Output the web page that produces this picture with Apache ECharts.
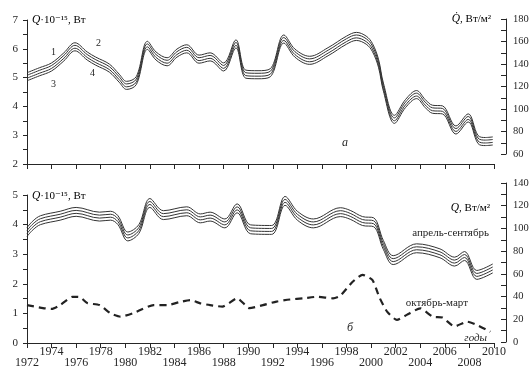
<!DOCTYPE html>
<html>
<head>
<meta charset="utf-8">
<script src="https://cdn.jsdelivr.net/npm/echarts/dist/echarts.min.js"></script>
<style>
  html, body { margin: 0; padding: 0; background: #fff; }
  #chart { width: 532px; height: 371px; }
</style>
</head>
<body>
<div id="chart"></div>
<script>
// Panel а: total heat flux Q·10^-15, W — four curves (1–4)
const yearsA = [1972.0, 1973.0, 1974.0, 1975.0, 1975.9, 1976.9, 1977.6, 1978.7, 1979.5, 1980.1,
  1980.9, 1981.8, 1982.5, 1983.4, 1984.2, 1985.0, 1986.0, 1986.9, 1988.0, 1989.0,
  1989.8, 1990.8, 1991.8, 1992.9, 1993.8, 1995.0, 1996.5, 1998.0, 1998.8, 1999.6,
  2000.1, 2000.6, 2001.0, 2001.9, 2002.8, 2003.7, 2004.4, 2005.0, 2005.8, 2006.9,
  2007.9, 2008.7, 2009.3, 2009.9];
const a1 = [5.17, 5.34, 5.51, 5.86, 6.21, 5.89, 5.71, 5.47, 5.12, 4.87,
  5.04, 6.26, 5.89, 5.69, 5.99, 6.14, 5.78, 5.86, 5.51, 6.31,
  5.26, 5.24, 5.31, 6.48, 5.99, 5.74, 6.04, 6.44, 6.57, 6.44,
  6.19, 5.64, 4.81, 3.69, 4.24, 4.55, 4.24, 4.04, 4.02, 3.32,
  3.74, 2.99, 2.92, 2.94];
const a2 = [5.08, 5.25, 5.42, 5.77, 6.12, 5.80, 5.62, 5.38, 5.03, 4.78,
  4.95, 6.17, 5.80, 5.60, 5.90, 6.05, 5.69, 5.77, 5.42, 6.22,
  5.17, 5.15, 5.22, 6.39, 5.90, 5.65, 5.95, 6.35, 6.48, 6.35,
  6.10, 5.55, 4.72, 3.60, 4.15, 4.46, 4.15, 3.95, 3.93, 3.23,
  3.65, 2.90, 2.83, 2.85];
const a4 = [4.98, 5.15, 5.32, 5.67, 6.02, 5.70, 5.52, 5.28, 4.93, 4.68,
  4.85, 6.07, 5.70, 5.50, 5.80, 5.95, 5.59, 5.67, 5.32, 6.12,
  5.07, 5.05, 5.12, 6.29, 5.80, 5.55, 5.85, 6.25, 6.38, 6.25,
  6.00, 5.45, 4.62, 3.50, 4.05, 4.36, 4.05, 3.85, 3.83, 3.13,
  3.55, 2.80, 2.73, 2.75];
const a3 = [4.89, 5.06, 5.23, 5.58, 5.93, 5.61, 5.43, 5.19, 4.84, 4.59,
  4.76, 5.98, 5.61, 5.41, 5.71, 5.86, 5.50, 5.58, 5.23, 6.03,
  4.98, 4.96, 5.03, 6.20, 5.71, 5.46, 5.76, 6.16, 6.29, 6.16,
  5.91, 5.36, 4.53, 3.41, 3.96, 4.27, 3.96, 3.76, 3.74, 3.04,
  3.46, 2.71, 2.64, 2.66];

// Panel б: April–September heat flux, four curves
const yearsB = [1972.0, 1972.5, 1973.1, 1974.7, 1976.0, 1977.9, 1978.8, 1979.4, 1980.2, 1981.1,
  1982.0, 1983.1, 1985.0, 1986.1, 1986.9, 1988.1, 1989.1, 1990.2, 1991.9, 1993.0,
  1994.0, 1995.3, 1997.5, 1998.3, 1999.3, 2000.2, 2001.0, 2001.8, 2003.7, 2005.6,
  2006.8, 2007.6, 2008.6, 2009.9];
const b1 = [3.90, 4.13, 4.30, 4.45, 4.58, 4.42, 4.45, 4.30, 3.75, 4.00,
  4.88, 4.47, 4.60, 4.36, 4.42, 4.19, 4.70, 3.99, 3.97, 4.95,
  4.45, 4.19, 4.57, 4.48, 4.27, 4.23, 3.46, 2.95, 3.35, 3.18,
  2.90, 3.09, 2.45, 2.67];
const b2 = [3.80, 4.03, 4.20, 4.35, 4.48, 4.32, 4.35, 4.20, 3.65, 3.90,
  4.78, 4.37, 4.50, 4.26, 4.32, 4.09, 4.60, 3.89, 3.87, 4.85,
  4.35, 4.09, 4.47, 4.38, 4.17, 4.13, 3.36, 2.85, 3.25, 3.08,
  2.80, 2.99, 2.35, 2.57];
const b4 = [3.70, 3.93, 4.10, 4.25, 4.38, 4.22, 4.25, 4.10, 3.55, 3.80,
  4.68, 4.27, 4.40, 4.16, 4.22, 3.99, 4.50, 3.79, 3.77, 4.75,
  4.25, 3.99, 4.37, 4.28, 4.07, 4.03, 3.26, 2.75, 3.15, 2.98,
  2.70, 2.89, 2.25, 2.47];
const b3 = [3.60, 3.83, 4.00, 4.15, 4.28, 4.12, 4.15, 4.00, 3.45, 3.70,
  4.58, 4.17, 4.30, 4.06, 4.12, 3.89, 4.40, 3.69, 3.67, 4.65,
  4.15, 3.89, 4.27, 4.18, 3.97, 3.93, 3.16, 2.65, 3.05, 2.88,
  2.60, 2.79, 2.15, 2.37];

// Panel б: October–March heat flux (dashed)
const yearsW = [1972.0, 1973.3, 1974.0, 1974.7, 1975.7, 1976.3, 1976.9, 1977.9, 1978.8, 1979.6,
  1980.6, 1982.3, 1983.4, 1984.4, 1985.3, 1986.1, 1986.9, 1987.9, 1989.1, 1990.1,
  1991.2, 1992.3, 1993.4, 1994.5, 1995.6, 1996.9, 1997.5, 1998.5, 1999.3, 2000.1,
  2000.7, 2001.3, 2002.1, 2002.9, 2004.0, 2005.0, 2005.8, 2006.8, 2007.8, 2008.6,
  2009.7];
const w = [1.28, 1.18, 1.15, 1.28, 1.56, 1.55, 1.35, 1.28, 1.00, 0.89,
  1.00, 1.28, 1.28, 1.38, 1.45, 1.34, 1.28, 1.23, 1.51, 1.18,
  1.28, 1.40, 1.47, 1.51, 1.56, 1.51, 1.60, 2.07, 2.30, 2.13,
  1.52, 1.06, 0.78, 0.95, 1.17, 0.89, 0.86, 0.56, 0.72, 0.61,
  0.38];

const SERIF = '"Liberation Serif", "DejaVu Serif", serif';
const INK = '#262626';

function pairs(xs, ys) { return xs.map((x, i) => [x, ys[i]]); }

function curve(xs, ys, axis) {
  return {
    type: 'line', xAxisIndex: axis, yAxisIndex: axis,
    data: pairs(xs, ys), smooth: 0.35, symbol: 'none', silent: true,
    lineStyle: { width: 1, color: '#333' }
  };
}

const tickFont = { fontFamily: SERIF, fontSize: 11, color: INK };

function yearAxis(grid, labels) {
  return {
    type: 'value', gridIndex: grid, min: 1972, max: 2010, interval: 2,
    axisLine: { show: true, lineStyle: { color: INK, width: 1 } },
    axisTick: { show: true, length: 5, lineStyle: { color: INK } },
    splitLine: { show: false },
    axisLabel: labels ? {
      show: true, margin: 3,
      formatter: v => (Math.round((v - 1972) / 2) % 2 === 0 ? '{lo|' : '{hi|') + v + '}',
      rich: {
        lo: { fontFamily: SERIF, fontSize: 12, color: INK, padding: [11, 0, 0, 0] },
        hi: { fontFamily: SERIF, fontSize: 12, color: INK }
      }
    } : { show: false }
  };
}

function hiddenX(grid) {
  return { type: 'value', gridIndex: grid, min: 1972, max: 2010, show: false };
}

function leftAxis(grid, min, max) {
  return {
    type: 'value', gridIndex: grid, min: min, max: max, interval: 1,
    axisLine: { show: true, lineStyle: { color: INK } },
    axisTick: { show: true, length: 4, lineStyle: { color: INK } },
    minorTick: { show: true, splitNumber: 2, length: 4, lineStyle: { color: INK } },
    splitLine: { show: false },
    axisLabel: Object.assign({ margin: 9 }, tickFont)
  };
}

function rightAxis(grid, min, max) {
  return {
    type: 'value', gridIndex: grid, position: 'right', min: min, max: max, interval: 20,
    axisLine: { show: true, lineStyle: { color: INK } },
    axisTick: { show: true, inside: true, length: 5, lineStyle: { color: INK } },
    minorTick: { show: true, splitNumber: 2, length: 5, lineStyle: { color: INK } },
    splitLine: { show: false },
    axisLabel: Object.assign({ margin: 7 }, tickFont, { fontSize: 10.5 })
  };
}

function label(x, y, text, opts) {
  return {
    type: 'text', x: x, y: y, silent: true,
    style: Object.assign({
      text: text, fill: INK, font: '11px ' + SERIF,
      align: 'left', verticalAlign: 'middle'
    }, opts || {})
  };
}

const richQ = {
  q: { fontFamily: SERIF, fontSize: 11.5, fontStyle: 'italic', color: INK },
  n: { fontFamily: SERIF, fontSize: 11, color: INK }
};

const chart = echarts.init(document.getElementById('chart'), null, { renderer: 'canvas' });

chart.setOption({
  animation: false,
  backgroundColor: '#fff',
  grid: [
    { left: 27, top: 20, width: 467, height: 144 },
    { left: 27, top: 19, width: 479, height: 135 },
    { left: 27, top: 195, width: 467, height: 148 },
    { left: 27, top: 183, width: 479, height: 159 }
  ],
  xAxis: [yearAxis(0, false), hiddenX(1), yearAxis(2, true), hiddenX(3)],
  yAxis: [leftAxis(0, 2, 7), rightAxis(1, 60, 180), leftAxis(2, 0, 5), rightAxis(3, 0, 140)],
  series: [
    curve(yearsA, a1, 0), curve(yearsA, a2, 0), curve(yearsA, a4, 0), curve(yearsA, a3, 0),
    curve(yearsB, b1, 2), curve(yearsB, b2, 2), curve(yearsB, b4, 2), curve(yearsB, b3, 2),
    {
      type: 'line', xAxisIndex: 2, yAxisIndex: 2, data: pairs(yearsW, w),
      smooth: 0.2, symbol: 'none', silent: true,
      lineStyle: { width: 2.2, color: '#222', type: [7, 5] }
    }
  ],
  graphic: [
    { type: 'text', x: 32, y: 20, silent: true,
      style: { text: '{q|Q}{n|·10⁻¹⁵, Вт}', rich: richQ, verticalAlign: 'middle' } },
    { type: 'text', x: 491, y: 19, silent: true,
      style: { text: '{q|Q̇}{n|, Вт/м²}', rich: richQ, align: 'right', verticalAlign: 'middle' } },
    { type: 'text', x: 32, y: 196, silent: true,
      style: { text: '{q|Q}{n|·10⁻¹⁵, Вт}', rich: richQ, verticalAlign: 'middle' } },
    { type: 'text', x: 490, y: 208, silent: true,
      style: { text: '{q|Q}{n|, Вт/м²}', rich: richQ, align: 'right', verticalAlign: 'middle' } },
    label(51, 52, '1', { font: '10px ' + SERIF }),
    label(96, 43, '2', { font: '10px ' + SERIF }),
    label(51, 84, '3', { font: '10px ' + SERIF }),
    label(90, 73, '4', { font: '10px ' + SERIF }),
    label(342, 143, 'а', { font: 'italic 12px ' + SERIF }),
    label(347, 328, 'б', { font: 'italic 12px ' + SERIF }),
    label(489, 233, 'апрель-сентябрь', { align: 'right' }),
    label(468, 303, 'октябрь-март', { align: 'right' }),
    label(487, 338, 'годы', { align: 'right', font: 'italic 11px ' + SERIF })
  ]
});
</script>
</body>
</html>
